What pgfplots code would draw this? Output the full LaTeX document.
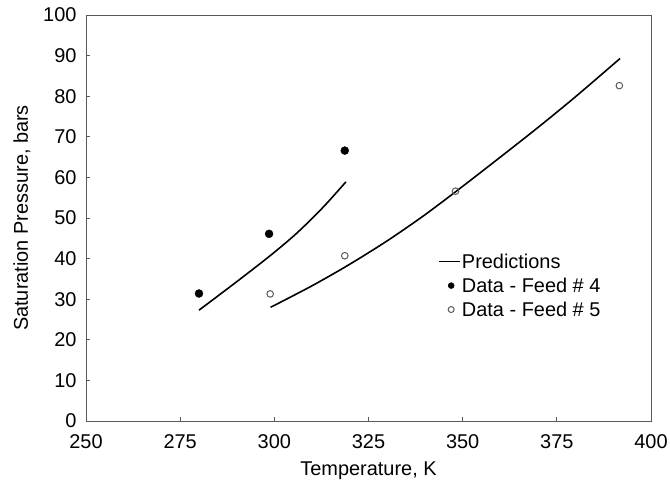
\documentclass[border=0pt]{standalone}
\usepackage{pgfplots}
\pgfplotsset{compat=1.18}
\usepackage{fontspec}
\setmainfont{Liberation Sans}
\definecolor{framegray}{HTML}{5A5A5A}
\pgfplotsset{
  shortline/.style={legend image code/.code={\draw[##1] (0bp,0bp) -- (21bp,0bp);}},
  onemark/.style={legend image code/.code={\draw[##1, mark size=3bp] plot coordinates {(12bp,0bp)};}},
}

\begin{document}
\begin{tikzpicture}
\begin{axis}[
  name=ax, scale only axis,
  width=565bp, height=406bp,
  xmin=250, xmax=400, ymin=0, ymax=100,
  xtick distance=25, ytick distance=10,
  axis line style={framegray, line width=0.8bp},
  tick style={framegray, line width=0.8bp},
  major tick length=4bp, tick align=inside,
  xtick pos=bottom, ytick pos=left,
  ticklabel style={font=\fontsize{20}{22}\selectfont},
  xticklabel style={yshift=-10bp},
  yticklabel style={xshift=-6bp},
  /pgf/number format/assume math mode=true,
  /pgf/number format/1000 sep={},
  xlabel={Temperature, K}, ylabel={Saturation Pressure, bars},
  label style={font=\fontsize{20}{22}\selectfont},
  xlabel style={yshift=-6bp}, ylabel style={yshift=6bp},
  legend style={at={(axis cs:343.5,41.5)}, anchor=north west, draw=none, fill=none,
    font=\fontsize{20}{23}\selectfont, inner sep=0pt, row sep=6bp,
    nodes={inner xsep=1bp, inner ysep=1bp}},
  legend cell align=left,
]
\addplot[black, line width=1.6bp, smooth, shortline]
  coordinates {(280,27.3) (290,34.3) (299,40.8) (306,46.3) (313,52.7) (319,58.9)};
\addlegendentry{Predictions}
\addplot[only marks, mark=*, mark size=4bp, black, onemark]
  coordinates {(280,31.4) (298.6,46.1) (318.7,66.6)};
\addlegendentry{Data - Feed \# 4}
\addplot[only marks, mark=o, mark size=3.3bp, framegray, line width=1bp, mark options={fill=white}, onemark]
  coordinates {(298.9,31.3) (318.7,40.7) (348.1,56.6) (391.6,82.6)};
\addlegendentry{Data - Feed \# 5}
\addplot[black, line width=1.6bp, smooth, forget plot]
  coordinates {(299,28.0) (310,33.3) (320,38.6) (330,44.4) (340,50.8) (350,57.8) (360,65.0) (370,72.3) (380,79.9) (391.8,89.3)};
\end{axis}
\pgfresetboundingbox
\path[use as bounding box] (ax.south west) ++(-86bp,-59bp) rectangle ++(670bp,480bp);
\end{tikzpicture}
\end{document}
